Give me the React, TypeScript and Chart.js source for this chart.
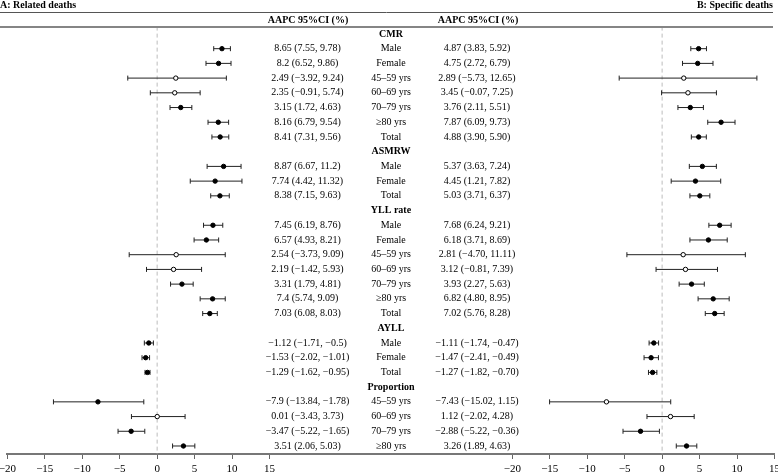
import React, { useEffect, useRef } from "react";
import { Chart, registerables } from "chart.js";

Chart.register(...registerables);

const FONT = "'Liberation Serif', 'Times New Roman', serif";

const TITLE_A = "A: Related deaths";
const TITLE_B = "B: Specific deaths";
const COLUMN_HEADER = "AAPC 95%CI (%)";

const GROUP_NAMES = ["CMR", "ASMRW", "YLL rate", "AYLL", "Proportion"];
const GROUP_CATEGORIES = [
  ["Male", "Female", "45–59 yrs", "60–69 yrs", "70–79 yrs", "≥80 yrs", "Total"],
  ["Male", "Female", "Total"],
  ["Male", "Female", "45–59 yrs", "60–69 yrs", "70–79 yrs", "≥80 yrs", "Total"],
  ["Male", "Female", "Total"],
  ["45–59 yrs", "60–69 yrs", "70–79 yrs", "≥80 yrs"],
];

// Panel A: related deaths
const A_EST = [8.65, 8.2, 2.49, 2.35, 3.15, 8.16, 8.41, 8.87, 7.74, 8.38, 7.45, 6.57, 2.54, 2.19, 3.31, 7.4, 7.03, -1.12, -1.53, -1.29, -7.9, 0.01, -3.47, 3.51];
const A_LOW = [7.55, 6.52, -3.92, -0.91, 1.72, 6.79, 7.31, 6.67, 4.42, 7.15, 6.19, 4.93, -3.73, -1.42, 1.79, 5.74, 6.08, -1.71, -2.02, -1.62, -13.84, -3.43, -5.22, 2.06];
const A_HIGH = [9.78, 9.86, 9.24, 5.74, 4.63, 9.54, 9.56, 11.2, 11.32, 9.63, 8.76, 8.21, 9.09, 5.93, 4.81, 9.09, 8.03, -0.5, -1.01, -0.95, -1.78, 3.73, -1.65, 5.03];

// Panel B: specific deaths
const B_EST = [4.87, 4.75, 2.89, 3.45, 3.76, 7.87, 4.88, 5.37, 4.45, 5.03, 7.68, 6.18, 2.81, 3.12, 3.93, 6.82, 7.02, -1.11, -1.47, -1.27, -7.43, 1.12, -2.88, 3.26];
const B_LOW = [3.83, 2.72, -5.73, -0.07, 2.11, 6.09, 3.9, 3.63, 1.21, 3.71, 6.24, 3.71, -4.7, -0.81, 2.27, 4.8, 5.76, -1.74, -2.41, -1.82, -15.02, -2.02, -5.22, 1.89];
const B_HIGH = [5.92, 6.79, 12.65, 7.25, 5.51, 9.73, 5.9, 7.24, 7.82, 6.37, 9.21, 8.69, 11.11, 7.39, 5.63, 8.95, 8.28, -0.47, -0.49, -0.7, 1.15, 4.28, -0.36, 4.63];

const TICK_VALUES = [-20, -15, -10, -5, 0, 5, 10, 15];
const AXIS_MIN = -20;
const AXIS_MAX = 15;
const PANEL_GAP = 32.4; // gap between panels, in axis units
const OFFSET = AXIS_MAX - AXIS_MIN + PANEL_GAP;

const minus = (s: string) => s.replace(/-/g, "−");
const fmtA = (v: number) => minus(String(v));
const fmtB = (v: number) => minus(v.toFixed(2));

type Row = { header?: string; label?: string; idx?: number };

function buildRows(): Row[] {
  const rows: Row[] = [];
  let k = 0;
  GROUP_NAMES.forEach((g, gi) => {
    rows.push({ header: g });
    GROUP_CATEGORIES[gi].forEach((c) => {
      rows.push({ label: c, idx: k });
      k++;
    });
  });
  return rows;
}

export default function App() {
  const ref = useRef<HTMLCanvasElement | null>(null);

  useEffect(() => {
    const canvas = ref.current;
    if (!canvas) return;
    const rows = buildRows();
    const nRows = rows.length;
    const yMin = -0.5;
    const yMax = nRows - 1 + 0.544;

    const rowOf: number[] = [];
    rows.forEach((r, i) => {
      if (r.idx !== undefined) rowOf[r.idx] = i;
    });

    const datasets: any[] = [];
    const addPanel = (est: number[], lo: number[], hi: number[], axis: string) => {
      datasets.push({
        type: "line",
        data: [
          { x: 0, y: yMin },
          { x: 0, y: yMax },
        ],
        xAxisID: axis,
        yAxisID: "y",
        borderColor: "#bdbdbd",
        borderWidth: 1,
        borderDash: [4, 3],
        pointRadius: 0,
        order: 3,
      });
      est.forEach((_, i) => {
        datasets.push({
          type: "scatter",
          showLine: true,
          data: [
            { x: lo[i], y: rowOf[i] },
            { x: hi[i], y: rowOf[i] },
          ],
          xAxisID: axis,
          yAxisID: "y",
          borderColor: "#222",
          borderWidth: 1,
          pointStyle: "line",
          pointRotation: 90,
          pointRadius: 2.5,
          pointBorderWidth: 1,
          pointBorderColor: "#222",
          pointHoverRadius: 2.5,
          order: 2,
        });
      });
      datasets.push({
        type: "scatter",
        data: est.map((v, i) => ({ x: v, y: rowOf[i] })),
        xAxisID: axis,
        yAxisID: "y",
        pointStyle: "circle",
        pointRadius: 2.2,
        pointHoverRadius: 2.2,
        pointBorderWidth: 1,
        pointBorderColor: "#000",
        pointBackgroundColor: est.map((_, i) => (lo[i] < 0 && hi[i] > 0 ? "#fff" : "#000")),
        order: 0,
      });
    };
    addPanel(A_EST, A_LOW, A_HIGH, "xA");
    addPanel(B_EST, B_LOW, B_HIGH, "xB");

    const textPlugin = {
      id: "forestText",
      afterDraw(chart: any) {
        const ctx = chart.ctx as CanvasRenderingContext2D;
        const ys = chart.scales.y;
        ctx.save();
        ctx.strokeStyle = "#555";
        ctx.lineWidth = 1;
        ctx.beginPath();
        ctx.moveTo(0, 12.5);
        ctx.lineTo(773, 12.5);
        ctx.stroke();
        ctx.strokeStyle = "#858585";
        ctx.lineWidth = 2;
        ctx.beginPath();
        ctx.moveTo(0, 27);
        ctx.lineTo(773, 27);
        ctx.stroke();

        ctx.fillStyle = "#000";
        ctx.textBaseline = "middle";
        ctx.font = `bold 10px ${FONT}`;
        ctx.textAlign = "left";
        ctx.fillText(TITLE_A, 0, 5);
        ctx.textAlign = "right";
        ctx.fillText(TITLE_B, 773, 5);
        ctx.textAlign = "center";
        ctx.fillText(COLUMN_HEADER, 308, 20.3);
        ctx.fillText(COLUMN_HEADER, 478, 20.3);

        rows.forEach((r, i) => {
          const py = ys.getPixelForValue(i);
          if (r.header) {
            ctx.font = `bold 10px ${FONT}`;
            ctx.fillText(r.header, 391, py);
          } else if (r.idx !== undefined) {
            const k = r.idx;
            ctx.font = `10px ${FONT}`;
            ctx.fillText(r.label as string, 391, py);
            ctx.fillText(`${fmtA(A_EST[k])} (${fmtA(A_LOW[k])}, ${fmtA(A_HIGH[k])})`, 307.5, py);
            ctx.fillText(`${fmtB(B_EST[k])} (${fmtB(B_LOW[k])}, ${fmtB(B_HIGH[k])})`, 477, py);
          }
        });
        ctx.restore();
      },
    };

    const chart = new Chart(canvas, {
      type: "scatter",
      data: { datasets },
      options: {
        responsive: false,
        devicePixelRatio: 1,
        animation: false,
        events: [],
        layout: { padding: { left: 7.3, right: 3.2, top: 26.6, bottom: 0 } },
        plugins: { legend: { display: false }, tooltip: { enabled: false } },
        scales: {
          y: {
            type: "linear",
            display: false,
            reverse: true,
            min: yMin,
            max: yMax,
          },
          xA: {
            type: "linear",
            position: "bottom",
            min: AXIS_MIN,
            max: AXIS_MAX + OFFSET,
            afterBuildTicks: (scale: any) => {
              scale.ticks = [
                ...TICK_VALUES.map((v) => ({ value: v })),
                ...TICK_VALUES.map((v) => ({ value: v + OFFSET })),
              ];
            },
            afterFit: (scale: any) => {
              scale.paddingLeft = 0;
              scale.paddingRight = 0;
              scale.height = 19;
            },
            ticks: {
              autoSkip: false,
              maxRotation: 0,
              minRotation: 0,
              padding: 4,
              color: "#000",
              font: { family: FONT, size: 11 },
              callback: (value: any) => {
                const v = Number(value);
                const shown = v > AXIS_MAX + 0.5 ? Math.round(v - OFFSET) : Math.round(v);
                return minus(String(shown));
              },
            },
            grid: {
              display: true,
              drawOnChartArea: false,
              drawTicks: true,
              tickLength: 5,
              tickColor: "#666",
              lineWidth: 1,
            },
            border: { display: true, color: "#777", width: 2 },
          },
          xB: {
            type: "linear",
            display: false,
            min: AXIS_MIN - OFFSET,
            max: AXIS_MAX,
          },
        },
      } as any,
      plugins: [textPlugin],
    });

    return () => chart.destroy();
  }, []);

  return (
    <div style={{ position: "fixed", left: 0, top: 0, width: 778, height: 473, background: "#fff" }}>
      <canvas ref={ref} width={778} height={473} style={{ display: "block", width: 778, height: 473 }} />
    </div>
  );
}
